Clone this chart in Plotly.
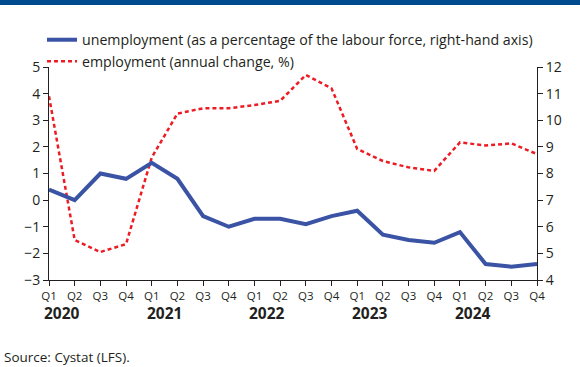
import plotly.graph_objects as go

# Quarterly labour-market data, Q1 2020 - Q4 2024
quarters = ["Q1", "Q2", "Q3", "Q4"] * 5
years = ["2020", "2021", "2022", "2023", "2024"]

# Unemployment rate, % of labour force (right-hand axis)
unemployment = [7.4, 7.0, 8.0, 7.8, 8.4, 7.8, 6.4, 6.0, 6.3, 6.3,
                6.1, 6.4, 6.6, 5.7, 5.5, 5.4, 5.8, 4.6, 4.5, 4.6]

# Employment, annual change in % (left-hand axis)
employment = [3.9, -1.5, -1.95, -1.65, 1.6, 3.25, 3.45, 3.45, 3.57, 3.73,
              4.7, 4.2, 1.92, 1.47, 1.23, 1.1, 2.17, 2.05, 2.13, 1.73]

x = list(range(len(quarters)))
FONT = "Open Sans"
INK = "#231f20"

fig = go.Figure()
fig.add_trace(go.Scatter(
    x=x, y=unemployment, yaxis="y2", mode="lines",
    name="unemployment (as a percentage of the labour force, right-hand axis)",
    line=dict(color="#3a53a4", width=4),
))
fig.add_trace(go.Scatter(
    x=x, y=employment, yaxis="y", mode="lines",
    name="employment (annual change, %)",
    line=dict(color="#ed1c24", width=2.5, dash="4px,3px"),
))

# Bold year labels under each block of quarters
for i, yr in enumerate(years):
    fig.add_annotation(x=4 * i + 0.5, y=(280 - 313) / 213, xref="x", yref="paper",
                       text="<b>%s</b>" % yr, showarrow=False,
                       font=dict(family=FONT, size=15.5, color=INK),
                       xanchor="center", yanchor="middle")

fig.add_annotation(x=-47 / 488, y=(280 - 357) / 213, xref="paper", yref="paper",
                   xanchor="left", yanchor="middle", showarrow=False,
                   text="Source: Cystat (LFS).",
                   font=dict(family=FONT, size=13.5, color=INK))

# Dark band along the top edge
fig.add_shape(type="rect", xref="paper", yref="paper",
              x0=-0.2, x1=1.2, y0=(280 - 5) / 213, y1=(280 + 10) / 213,
              fillcolor="#004b8d", line=dict(width=0), layer="above")

fig.update_layout(
    width=580, height=367,
    margin=dict(l=49, r=43, t=67, b=87),
    paper_bgcolor="white", plot_bgcolor="white",
    font=dict(family=FONT, size=13, color=INK),
    showlegend=True,
    legend=dict(x=-7 / 488, y=(280 - 24) / 213, xanchor="left", yanchor="top",
                bgcolor="rgba(0,0,0,0)", font=dict(family=FONT, size=14.2, color=INK),
                itemwidth=30, tracegroupgap=0),
    xaxis=dict(range=[0, 19], tickmode="array", tickvals=x, ticktext=quarters,
               showgrid=False, zeroline=False, showline=True, linecolor=INK,
               linewidth=1, ticks="outside", ticklen=5, tickcolor=INK,
               tickfont=dict(family=FONT, size=11.5, color=INK)),
    yaxis=dict(range=[-3, 5], dtick=1, showgrid=False, zeroline=False,
               showline=True, linecolor=INK, linewidth=1, ticks="outside",
               ticklen=5, tickcolor=INK, tickfont=dict(size=14)),
    yaxis2=dict(range=[4, 12], dtick=1, overlaying="y", side="right",
                showgrid=False, zeroline=False, showline=True, linecolor=INK,
                linewidth=1, ticks="outside", ticklen=5, tickcolor=INK,
                tickfont=dict(size=14)),
)

fig.write_html("out.html")
